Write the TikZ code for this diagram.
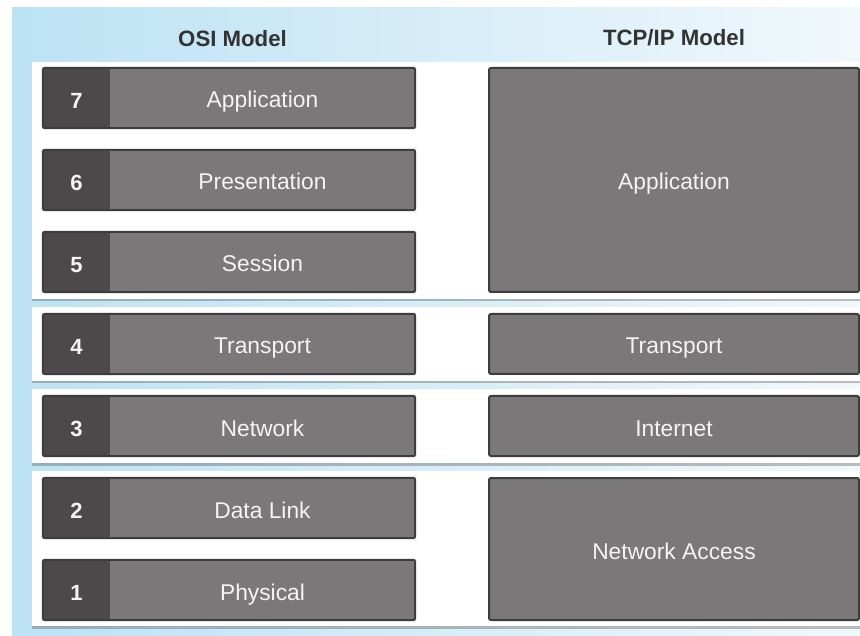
\documentclass[tikz,border=0pt]{standalone}
\usepackage{fontspec}
\setmainfont{Liberation Sans}
\usetikzlibrary{shadows}
\definecolor{skyL}{HTML}{BCE2F4}
\definecolor{skyR}{HTML}{F1F8FC}
\definecolor{layerfill}{HTML}{7A7879}
\definecolor{numfill}{HTML}{4B494A}
\definecolor{edgegray}{HTML}{3E3C3D}
\definecolor{headtext}{HTML}{333333}
\definecolor{labeltext}{HTML}{F4F4F4}

\tikzset{
  band/.style={fill=white, draw=none,
    drop shadow={shadow xshift=0pt, shadow yshift=-2.5pt, opacity=0.35, fill=black!70}},
  % fixed text height/depth keeps every baseline 10pt below the box centre
  numbox/.style={fill=numfill, minimum width=67pt, minimum height=60pt,
    inner sep=0pt, text height=21pt, text depth=0pt,
    text=labeltext, font=\bfseries\fontsize{22}{22}\selectfont},
  namebox/.style={fill=layerfill, minimum width=305pt, minimum height=60pt,
    inner sep=0pt, text height=20pt, text depth=0pt,
    text=labeltext, font=\fontsize{22.8}{23}\selectfont},
  frame/.style={draw=edgegray, line width=2pt, rounded corners=2pt},
  tcpbox/.style={fill=layerfill, draw=edgegray, line width=2pt, rounded corners=2pt,
    minimum width=370pt, inner sep=0pt, text height=20pt, text depth=0pt,
    text=labeltext, font=\fontsize{22.8}{23}\selectfont},
  head/.style={anchor=base, text=headtext, font=\bfseries\fontsize{22.2}{22}\selectfont}
}

\begin{document}
\begin{tikzpicture}[x=1pt,y=-1pt]
\useasboundingbox (0,0) rectangle (860,636);

% backdrop
\fill[white] (0,0) rectangle (860,636);
\shade[left color=skyL, right color=skyR] (12,8) rectangle (860,636);

% white bands grouping the layers
\path[band] (32,62)  rectangle (872,299);
\path[band] (32,307) rectangle (872,381);
\path[band] (32,389) rectangle (872,463);
\path[band] (32,471) rectangle (872,626);

% column headings
\node[head] (hosi) at (232.5,46.5) {OSI Model};
\node[head] (htcp) at (674,46) {TCP/IP Model};

% OSI layers
\foreach \n/\name/\y in {7/Application/98, 6/Presentation/180, 5/Session/262,
                         4/Transport/344, 3/Network/426, 2/Data Link/508, 1/Physical/590}{
  \node[numbox] (n\n) at (76.5,\y) {\n};
  \node[namebox] (l\n) at (262.5,\y) {\name};
  \draw[frame] (n\n.north west) rectangle (l\n.south east);
}

% TCP/IP layers
\node[tcpbox, minimum height=224pt] (tapp) at (674,180) {Application};
\node[tcpbox, minimum height=60pt]  (ttra) at (674,344) {Transport};
\node[tcpbox, minimum height=60pt]  (tint) at (674,426) {Internet};
\node[tcpbox, minimum height=142pt] (tnet) at (674,549) {Network Access};
\end{tikzpicture}
\end{document}
